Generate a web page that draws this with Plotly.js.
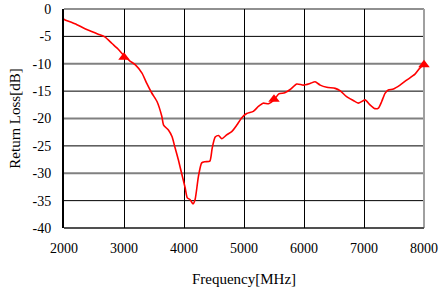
<!DOCTYPE html>
<html><head><meta charset="utf-8">
<script src="https://cdn.plot.ly/plotly-3.0.1.min.js"></script>
<style>html,body{margin:0;padding:0;background:#fff}#c{width:441px;height:290px}</style>
</head><body><div id="c"></div>
<script>
const freq = [1960,2017,2183,2350,2460,2570,2680,2800,2900,2990,3100,3190,3300,3380,3460,3550,3630,3660,3740,3800,3850,3905,3960,4020,4055,4100,4150,4185,4240,4295,4350,4430,4470,4520,4575,4630,4710,4795,4880,4960,5045,5155,5240,5320,5410,5500,5580,5680,5770,5880,5990,6100,6185,6270,6380,6520,6600,6710,6820,6905,7017,7100,7183,7240,7295,7350,7405,7490,7600,7710,7850,7930,8000];
const returnLoss = [-1.7,-2.0,-2.7,-3.6,-4.1,-4.6,-5.1,-6.3,-7.3,-8.4,-9.5,-10.2,-11.7,-13.6,-15.3,-16.9,-19.6,-21.2,-22.1,-23.3,-25.3,-27.5,-30.0,-32.7,-34.5,-34.8,-35.6,-34.8,-30.6,-28.1,-27.9,-27.8,-25.4,-23.4,-23.1,-23.7,-23.0,-22.4,-21.2,-19.9,-19.1,-18.7,-17.8,-17.2,-17.3,-16.6,-15.5,-15.3,-14.7,-13.7,-13.9,-13.6,-13.3,-13.9,-14.3,-14.5,-14.9,-16.0,-16.7,-17.2,-16.6,-17.5,-18.2,-18.1,-16.9,-15.4,-14.8,-14.6,-13.9,-13.0,-11.9,-10.8,-10.2];
const markerFreq = [3000, 5500, 8000];
const markerRL = [-8.8, -16.5, -10.2];
const xTicks = [2000,3000,4000,5000,6000,7000,8000];
const yTicks = [0,-5,-10,-15,-20,-25,-30,-35,-40];
const blackLines = [-5,-15,-25,-35];
const grayLines = [-10,-20,-30];

const font = {family: '"Liberation Serif", "Times New Roman", serif', size: 14, color: '#000'};
const titleFont = {family: '"Liberation Serif", "Times New Roman", serif', size: 15, color: '#000'};
const shapes = [];
blackLines.forEach(v => shapes.push({type:'line', xref:'paper', x0:0, x1:1, yref:'y', y0:v, y1:v, line:{color:'#000', width:1}, layer:'below'}));
grayLines.forEach(v => shapes.push({type:'line', xref:'paper', x0:0, x1:1, yref:'y', y0:v, y1:v, line:{color:'#808080', width:2}, layer:'below'}));
shapes.push({type:'line', xref:'paper', x0:0, x1:1, yref:'paper', y0:1, y1:1, line:{color:'#909090', width:2}, layer:'below'});
shapes.push({type:'line', xref:'paper', x0:1, x1:1, yref:'paper', y0:0, y1:1, line:{color:'#a0a0a0', width:2}, layer:'below'});
shapes.push({type:'line', xref:'paper', x0:0, x1:1, yref:'paper', y0:0, y1:0, line:{color:'#505050', width:2}, layer:'below'});

Plotly.newPlot('c', [
  {x: freq, y: returnLoss, type:'scatter', mode:'lines', line:{color:'#ff0000', width:1.6, shape:'spline', smoothing:0.6}, cliponaxis:false, hoverinfo:'skip'},
  {x: markerFreq, y: markerRL, type:'scatter', mode:'markers', marker:{symbol:'triangle-up', size:10, color:'#ff0000'}, cliponaxis:false, hoverinfo:'skip'}
], {
  width: 441, height: 290,
  margin: {l:64, r:17, t:9, b:62},
  paper_bgcolor:'#fff', plot_bgcolor:'#fff',
  showlegend:false,
  font: font,
  shapes: shapes,
  xaxis: {range:[2000,8000], tickvals:xTicks, ticktext:xTicks.map(String), showgrid:true, gridcolor:'#000', gridwidth:1, zeroline:false, showline:false, ticks:'', ticklabelstandoff:10, tickfont:font, title:{text:'Frequency[MHz]', font:titleFont, standoff:18}},
  yaxis: {range:[-40,0], tickvals:yTicks, ticktext:yTicks.map(String), showgrid:false, zeroline:false, showline:true, linecolor:'#000', linewidth:2, ticks:'', ticklabelstandoff:8, tickfont:font, title:{text:'Return Loss[dB]', font:titleFont, standoff:8}}
}, {staticPlot:true});
</script></body></html>
